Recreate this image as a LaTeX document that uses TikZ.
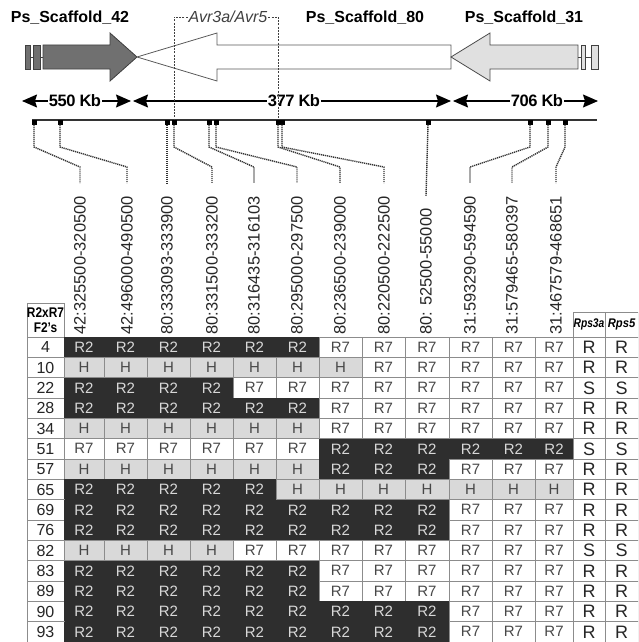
\documentclass[tikz,border=0pt]{standalone}
\usepackage{fontspec}
\setmainfont{Liberation Sans}
\usetikzlibrary{arrows.meta}
\definecolor{darkcell}{HTML}{2E2E2E}
\definecolor{darktext}{HTML}{D8D8D8}
\definecolor{hetcell}{HTML}{D9D9D9}
\definecolor{celltext}{HTML}{484848}
\definecolor{gridc}{HTML}{8C8C8C}
\definecolor{sc42}{HTML}{707070}
\definecolor{sc31}{HTML}{E0E0E0}
\begin{document}
\begin{tikzpicture}[x=1pt,y=-1pt,
  cellbase/.style={inner sep=0pt, minimum height=20.33pt, font=\fontsize{15}{15}\selectfont},
  celldark/.style={cellbase, fill=darkcell, text=darktext},
  cellhet/.style={cellbase, fill=hetcell, text=celltext, draw=gridc, line width=0.8pt},
  cellwhite/.style={cellbase, fill=white, text=celltext, draw=gridc, line width=0.8pt},
  numcell/.style={cellbase, fill=white, draw=gridc, line width=0.8pt, minimum width=37pt, text=black!85, font=\fontsize{16}{16}\selectfont},
  rescell/.style={cellbase, fill=white, draw=gridc, line width=0.8pt, text=black!85, font=\fontsize{18}{18}\selectfont},
  hdrcell/.style={inner sep=0pt, fill=white, draw=gridc, line width=0.8pt, text=black},
  mkbox/.style={fill=black, minimum size=5pt, inner sep=0pt},
  lead/.style={line width=1.4pt, black!80, dash pattern=on 1.2pt off 0.8pt},
  bracket/.style={line width=0.8pt, black!75, dash pattern=on 2pt off 1.2pt},
  vlabel/.style={rotate=90, anchor=west, inner sep=0pt, text=black!85, font=\fontsize{16.5}{16.5}\selectfont},
  kb/.style={fill=white, inner sep=1pt, font=\bfseries\fontsize{16.5}{16.5}\selectfont\addfontfeature{LetterSpace=-3}},
  scl/.style={inner sep=0pt, font=\bfseries\fontsize{16}{16}\selectfont},
  sizeline/.style={line width=1.2pt, {Stealth[length=15pt,width=13pt,inset=2pt]}-{Stealth[length=15pt,width=13pt,inset=2pt]}},
  capbox/.style={line width=0.8pt, draw=black!75}
]
\useasboundingbox (0,0) rectangle (638,642);
\clip (0,0) rectangle (638,642);

% ---------- scaffold labels ----------
\node[scl] (s42) at (70,18) {Ps\_Scaffold\_42};
\node[scl] (s80) at (365,18) {Ps\_Scaffold\_80};
\node[scl] (s31) at (524,18) {Ps\_Scaffold\_31};

% ---------- scaffold arrows ----------
\draw[fill=sc42, draw=black!75, line width=0.8pt]
  (43,45) -- (110,45) -- (110,33) -- (137,57) -- (110,81) -- (110,69) -- (43,69) -- cycle;
\draw[capbox, fill=sc42] (25,45) rectangle (30,69);
\draw[capbox, fill=sc42] (33,45) rectangle (40,69);
\draw[capbox] (30,57) -- (33,57) (40,57) -- (43,57);

\draw[fill=white, draw=black!65, line width=0.8pt]
  (137,57) -- (217,33) -- (217,45) -- (451,45) -- (451,69) -- (217,69) -- (217,81) -- cycle;

\draw[fill=sc31, draw=black!70, line width=0.8pt]
  (451,57) -- (490,33) -- (490,45) -- (578,45) -- (578,69) -- (490,69) -- (490,81) -- cycle;
\draw[capbox, fill=sc31] (581,45) rectangle (585,69);
\draw[capbox, fill=sc31] (591,45) rectangle (598,69);
\draw[capbox] (578,57) -- (581,57) (585,57) -- (591,57);

% ---------- size arrows ----------
\coordinate (a0) at (22,101);
\coordinate (a1) at (131,101);
\coordinate (a2) at (133,101);
\coordinate (a3) at (451,101);
\coordinate (a4) at (453,101);
\coordinate (a5) at (598,101);
\draw[sizeline] (a0) -- (a1);
\draw[sizeline] (a2) -- (a3);
\draw[sizeline] (a4) -- (a5);
\node[kb] (k550) at (75,101) {550 Kb};
\node[kb] (k377) at (294,101) {377 Kb};
\node[kb] (k706) at (537,101) {706 Kb};

% ---------- chromosome line and markers ----------
\coordinate (chrL) at (32,120);
\coordinate (chrR) at (597,120);
\draw[line width=2pt, black!80] (chrL) -- (chrR);
\foreach \k/\x in {1/34,2/60,3/167,4/174,5/209,6/216,7/278,8/282,9/428,10/530,11/548,12/565}
  \node[mkbox] (m\k) at (\x,122) {};

% ---------- Avr3a/Avr5 bracket ----------
\node[inner sep=1pt, text=black!75, font=\itshape\fontsize{16}{16}\selectfont] (avr) at (228,17) {Avr3a/Avr5};
\draw[bracket] (avr.west) -| (m4.north);
\draw[bracket] (avr.east) -| (m7.north);

% ---------- marker labels ----------
\foreach \k/\x/\t in {1/80/42:325500-320500, 2/127/42:496000-490500, 3/167/80:333093-333900,
  4/212/80:331500-333200, 5/254/80:316435-316103, 6/297/80:295000-297500,
  7/340/80:236500-239000, 8/384/80:220500-222500, 9/426/80: 52500-55000,
  10/470/31:593290-594590, 11/512/31:579465-580397, 12/556/31:467579-468651}
  \node[vlabel] (l\k) at (\x,335) {\t};

\foreach \k in {1,2,3,4,5,6,7,8,10,11,12}
  \draw[lead] (m\k.south) -- (m\k.south |- 0,147) -- (l\k.east |- 0,167) -- ([yshift=13pt]l\k.east);
\draw[lead] (m9.south) -- ([yshift=12pt]l9.east);

% ---------- table header ----------
\node[hdrcell, minimum width=37pt, minimum height=34pt, align=center,
      font=\bfseries\fontsize{14}{15}\selectfont] (hdr) at (45.5,320)
      {\scalebox{0.85}[1]{R2xR7}\\\scalebox{0.85}[1]{F2's}};
\node[hdrcell, minimum width=32pt, minimum height=25pt,
      font=\bfseries\itshape\fontsize{12.5}{12.5}\selectfont] (hra) at (589,324.5) {\scalebox{0.82}[1]{Rps3a}};
\node[hdrcell, minimum width=33pt, minimum height=25pt,
      font=\bfseries\itshape\fontsize{12.5}{12.5}\selectfont] (hrb) at (621.5,324.5) {\scalebox{0.9}[1]{Rps5}};

% ---------- table body ----------
\def\colc{{84,125.5,168.5,211.5,254.5,297.5,340.5,383.5,427,470.5,513.5,554}}
\def\colw{{40,43,43,43,43,43,43,43,44,43,43,38}}
\foreach \n/\codes/\ra/\rb [count=\i from 0] in {
  4/{D,D,D,D,D,D,W,W,W,W,W,W}/R/R,
  10/{H,H,H,H,H,H,H,W,W,W,W,W}/R/R,
  22/{D,D,D,D,W,W,W,W,W,W,W,W}/S/S,
  28/{D,D,D,D,D,D,W,W,W,W,W,W}/R/R,
  34/{H,H,H,H,H,H,W,W,W,W,W,W}/R/R,
  51/{W,W,W,W,W,W,D,D,D,D,D,D}/S/S,
  57/{H,H,H,H,H,H,D,D,D,W,W,W}/R/R,
  65/{D,D,D,D,D,H,H,H,H,H,H,H}/R/R,
  69/{D,D,D,D,D,D,D,D,D,W,W,W}/R/R,
  76/{D,D,D,D,D,D,D,D,D,W,W,W}/R/R,
  82/{H,H,H,H,W,W,W,W,W,W,W,W}/S/S,
  83/{D,D,D,D,D,D,W,W,W,W,W,W}/R/R,
  89/{D,D,D,D,D,D,W,W,W,W,W,W}/R/R,
  90/{D,D,D,D,D,D,D,D,D,W,W,W}/R/R,
  93/{D,D,D,D,D,D,D,D,D,W,W,W}/R/R}{
  \pgfmathsetmacro\yc{337+10.167+20.333*\i}
  \node[numcell] (n\i) at (45.5,\yc) {\n};
  \foreach \code [count=\j] in \codes {
    \pgfmathsetmacro\xc{\colc[\j-1]}
    \pgfmathsetmacro\wc{\colw[\j-1]}
    \if D\code \def\cst{celldark}\def\ctx{R2}\fi
    \if H\code \def\cst{cellhet}\def\ctx{H}\fi
    \if W\code \def\cst{cellwhite}\def\ctx{R7}\fi
    \node[\cst, minimum width=\wc pt] (c\i-\j) at (\xc,\yc) {\ctx};
  }
  \node[rescell, minimum width=32pt] (ra\i) at (589,\yc) {\ra};
  \node[rescell, minimum width=33pt] (rb\i) at (621.5,\yc) {\rb};
}
\end{tikzpicture}
\end{document}
